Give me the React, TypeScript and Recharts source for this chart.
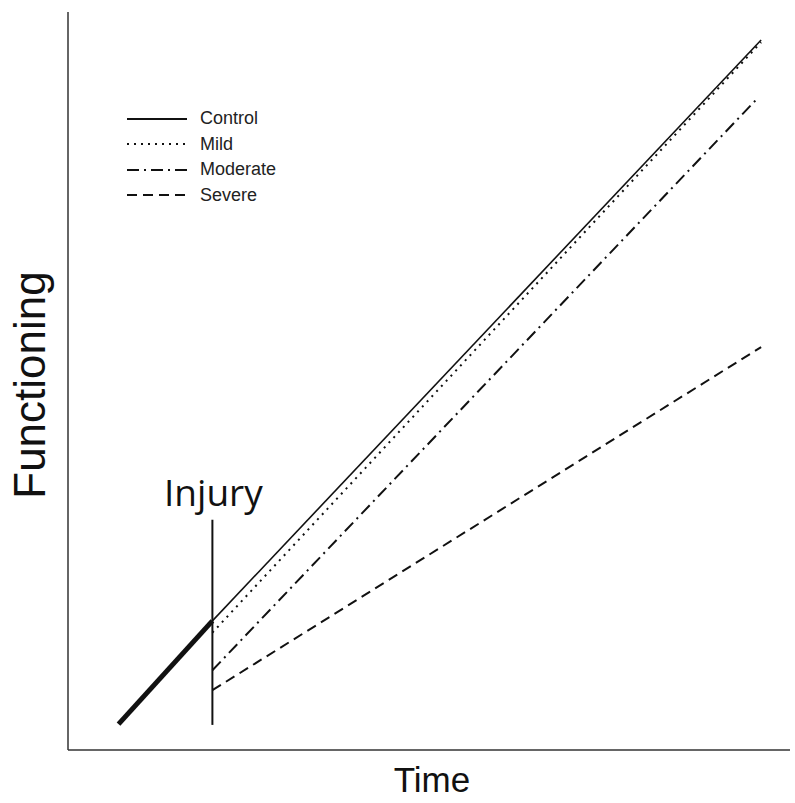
import React from 'react';
import { ComposedChart, Line, XAxis, YAxis, ReferenceLine } from 'recharts';

// time / functioning in arbitrary units (0-100)
const injuryTime = 20;
const injuryRange = [3.4, 31.2];

const preInjury = [
  { t: 7, f: 3.5 },
  { t: 20, f: 17.5 },
];
const control = [
  { t: 20, f: 17.5 },
  { t: 96, f: 96.2 },
];
const mild = [
  { t: 20, f: 15.9 },
  { t: 96, f: 95.9 },
];
const moderate = [
  { t: 20, f: 10.8 },
  { t: 95.3, f: 88.1 },
];
const severe = [
  { t: 20, f: 8.1 },
  { t: 96, f: 54.6 },
];

const groups = [
  { name: 'Control', dash: undefined },
  { name: 'Mild', dash: '2 5' },
  { name: 'Moderate', dash: '12 5 2 5' },
  { name: 'Severe', dash: '10 6' },
];

const axisFont = '"Liberation Sans", Arial, sans-serif';
const injuryFont = '"Open Sans", "Liberation Sans", sans-serif';

function LegendBox() {
  return (
    <div
      style={{
        position: 'absolute',
        left: 126,
        top: 106,
        fontFamily: axisFont,
        fontSize: 18,
        color: '#222',
      }}
    >
      {groups.map((g) => (
        <div key={g.name} style={{ display: 'flex', alignItems: 'center', height: 25.5 }}>
          <svg width={62} height={10} style={{ marginRight: 12 }}>
            <line x1={1} y1={5} x2={61} y2={5} stroke="#111" strokeWidth={2} strokeDasharray={g.dash} />
          </svg>
          <span>{g.name}</span>
        </div>
      ))}
    </div>
  );
}

export default function App() {
  return (
    <div style={{ position: 'absolute', left: 0, top: 0, width: 795, height: 803, background: '#fff' }}>
      <ComposedChart width={795} height={803} margin={{ top: 12, right: 5, bottom: 52, left: 67 }}>
        <XAxis
          type="number"
          dataKey="t"
          domain={[0, 100]}
          tick={false}
          tickLine={false}
          height={1}
          axisLine={{ stroke: '#333', strokeWidth: 1.5 }}
          label={{
            content: () => (
              <text x={432} y={792} textAnchor="middle" fontFamily={axisFont} fontSize={35} fill="#111">
                Time
              </text>
            ),
          }}
        />
        <YAxis
          type="number"
          dataKey="f"
          domain={[0, 100]}
          tick={false}
          tickLine={false}
          width={1}
          axisLine={{ stroke: '#333', strokeWidth: 1.5 }}
          label={{
            content: () => (
              <text
                x={45}
                y={385}
                transform="rotate(-90 45 385)"
                textAnchor="middle"
                fontFamily={axisFont}
                fontSize={44}
                fill="#111"
              >
                Functioning
              </text>
            ),
          }}
        />
        <ReferenceLine
          segment={[
            { x: injuryTime, y: injuryRange[0] },
            { x: injuryTime, y: injuryRange[1] },
          ]}
          stroke="#111"
          strokeWidth={2}
          label={{
            content: (p: any) => (
              <text
                x={p.viewBox.x + 1}
                y={p.viewBox.y - 14}
                textAnchor="middle"
                fontFamily={injuryFont}
                fontSize={37}
                fill="#111"
              >
                Injury
              </text>
            ),
          }}
        />
        <Line data={preInjury} dataKey="f" stroke="#111" strokeWidth={5} dot={false} isAnimationActive={false} />
        <Line data={control} dataKey="f" stroke="#111" strokeWidth={1.6} dot={false} isAnimationActive={false} name="Control" />
        <Line data={mild} dataKey="f" stroke="#111" strokeWidth={2} strokeDasharray="2 5" dot={false} isAnimationActive={false} name="Mild" />
        <Line data={moderate} dataKey="f" stroke="#111" strokeWidth={2} strokeDasharray="12 5 2 5" dot={false} isAnimationActive={false} name="Moderate" />
        <Line data={severe} dataKey="f" stroke="#111" strokeWidth={2} strokeDasharray="10 6" dot={false} isAnimationActive={false} name="Severe" />
      </ComposedChart>
      <LegendBox />
    </div>
  );
}
